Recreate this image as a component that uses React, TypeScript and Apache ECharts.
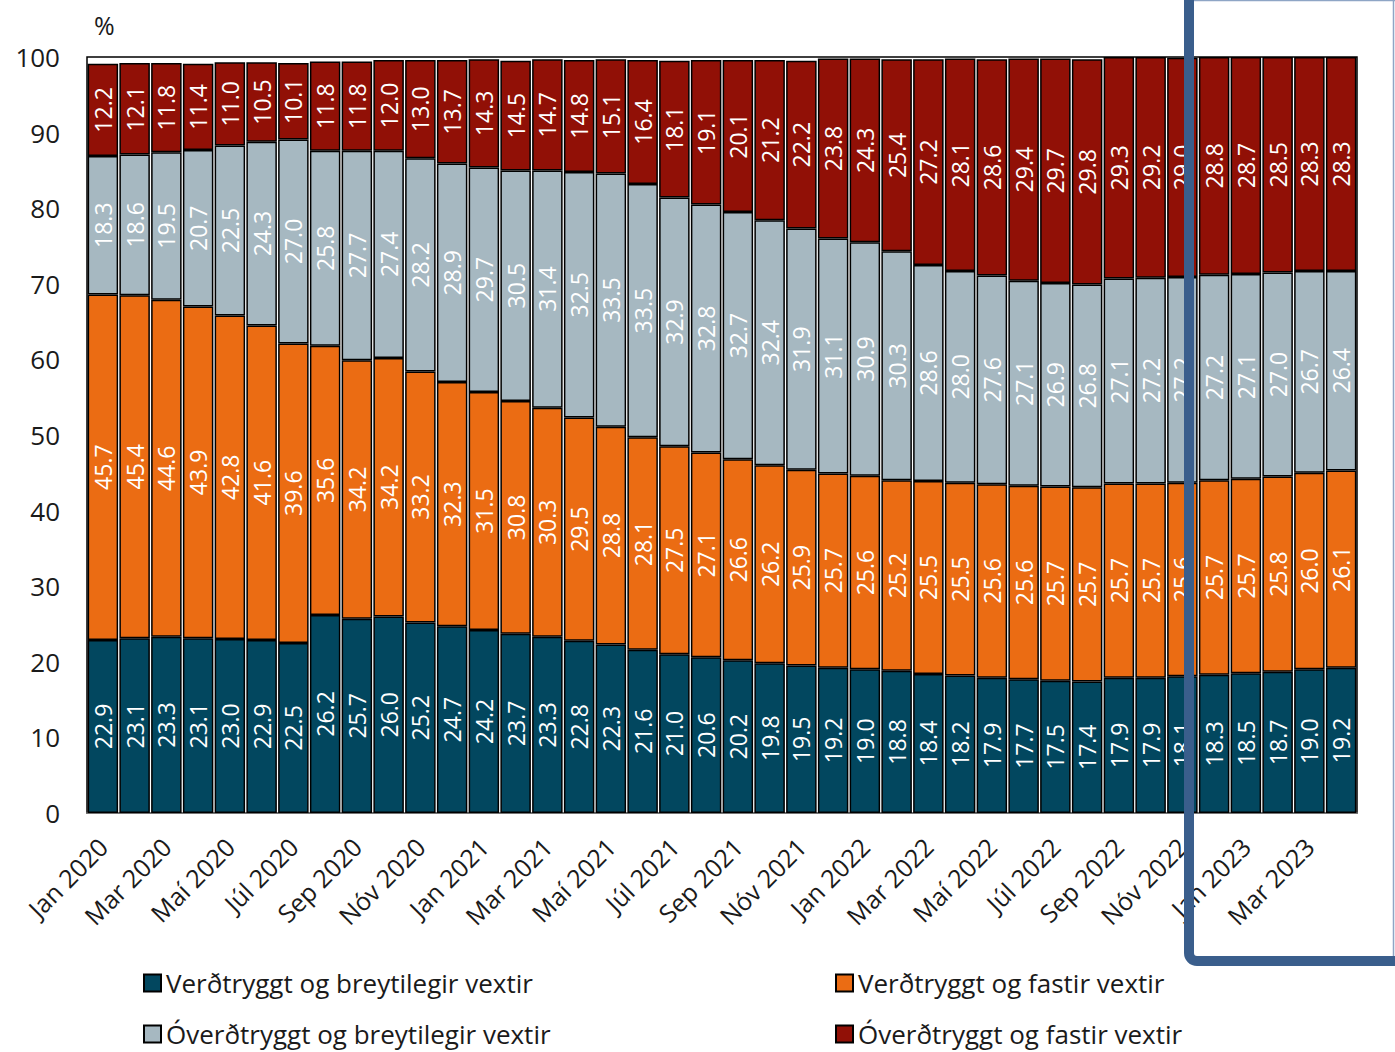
import React, { useEffect, useRef } from "react";
import * as echarts from "echarts";

const months = ["Jan", "Feb", "Mar", "Apr", "Maí", "Jún", "Júl", "Ágú", "Sep", "Okt", "Nóv", "Des"];
const years = [2020, 2021, 2022, 2023];
const categories: string[] = [];
years.forEach((y) => months.forEach((m) => categories.push(`${m} ${y}`)));
const cats = categories.slice(0, 40);

const verdBreyt = [22.9, 23.1, 23.3, 23.1, 23.0, 22.9, 22.5, 26.2, 25.7, 26.0, 25.2, 24.7, 24.2, 23.7, 23.3, 22.8, 22.3, 21.6, 21.0, 20.6, 20.2, 19.8, 19.5, 19.2, 19.0, 18.8, 18.4, 18.2, 17.9, 17.7, 17.5, 17.4, 17.9, 17.9, 18.1, 18.3, 18.5, 18.7, 19.0, 19.2];
const verdFast = [45.7, 45.4, 44.6, 43.9, 42.8, 41.6, 39.6, 35.6, 34.2, 34.2, 33.2, 32.3, 31.5, 30.8, 30.3, 29.5, 28.8, 28.1, 27.5, 27.1, 26.6, 26.2, 25.9, 25.7, 25.6, 25.2, 25.5, 25.5, 25.6, 25.6, 25.7, 25.7, 25.7, 25.7, 25.6, 25.7, 25.7, 25.8, 26.0, 26.1];
const overdBreyt = [18.3, 18.6, 19.5, 20.7, 22.5, 24.3, 27.0, 25.8, 27.7, 27.4, 28.2, 28.9, 29.7, 30.5, 31.4, 32.5, 33.5, 33.5, 32.9, 32.8, 32.7, 32.4, 31.9, 31.1, 30.9, 30.3, 28.6, 28.0, 27.6, 27.1, 26.9, 26.8, 27.1, 27.2, 27.2, 27.2, 27.1, 27.0, 26.7, 26.4];
const overdFast = [12.2, 12.1, 11.8, 11.4, 11.0, 10.5, 10.1, 11.8, 11.8, 12.0, 13.0, 13.7, 14.3, 14.5, 14.7, 14.8, 15.1, 16.4, 18.1, 19.1, 20.1, 21.2, 22.2, 23.8, 24.3, 25.4, 27.2, 28.1, 28.6, 29.4, 29.7, 29.8, 29.3, 29.2, 29.0, 28.8, 28.7, 28.5, 28.3, 28.3];

const seriesNames = [
  "Verðtryggt og breytilegir vextir",
  "Verðtryggt og fastir vextir",
  "Óverðtryggt og breytilegir vextir",
  "Óverðtryggt og fastir vextir",
];
const seriesColors = ["#02475f", "#eb6c13", "#a6b8c1", "#911006"];
const seriesData = [verdBreyt, verdFast, overdBreyt, overdFast];

const FONT = "'Open Sans', sans-serif";

export default function App() {
  const ref = useRef<HTMLDivElement>(null);
  useEffect(() => {
    document.body.style.margin = "0";
    document.body.style.overflow = "hidden";
    if (!ref.current) return;
    const chart = echarts.init(ref.current, null, { renderer: "svg" });
    const legendPos = [
      { left: 143, top: 970 },
      { left: 835, top: 970 },
      { left: 143, top: 1021 },
      { left: 835, top: 1021 },
    ];
    chart.setOption({
      animation: false,
      backgroundColor: "#ffffff",
      textStyle: { fontFamily: FONT },
      grid: {
        left: 87,
        right: 38,
        top: 57,
        bottom: 239,
        show: true,
        borderColor: "#000",
        borderWidth: 1.5,
        backgroundColor: "transparent",
      },
      legend: seriesNames.map((n, i) => ({
        data: [n],
        left: legendPos[i].left,
        top: legendPos[i].top,
        padding: 0,
        icon: "rect",
        itemWidth: 17,
        itemHeight: 17,
        itemGap: 5,
        textStyle: { fontFamily: FONT, fontSize: 26, color: "#1a1a1a" },
        selectedMode: false,
      })),
      xAxis: {
        type: "category",
        data: cats,
        axisLine: { show: true, lineStyle: { color: "#888", width: 1.5 } },
        axisTick: { show: false },
        axisLabel: {
          interval: 1,
          rotate: 45,
          fontFamily: FONT,
          fontSize: 25,
          color: "#1a1a1a",
          margin: 29,
        },
      },
      yAxis: {
        type: "value",
        min: 0,
        max: 100,
        interval: 10,
        splitLine: { show: false },
        axisLine: { show: false },
        axisTick: { show: false },
        axisLabel: { fontFamily: FONT, fontSize: 26, color: "#1a1a1a", margin: 27 },
      },
      graphic: [
        {
          type: "text",
          left: 94,
          top: 12,
          style: { text: "%", fontFamily: FONT, fontSize: 25, fill: "#1a1a1a" },
        },
        {
          type: "rect",
          z: 100,
          shape: { x: 1189, y: -30, width: 260, height: 991, r: 8 },
          style: { fill: "none", stroke: "#3a5e8c", lineWidth: 10 },
        },
        {
          type: "line",
          z: 100,
          shape: { x1: 1194, y1: 0.5, x2: 1395, y2: 0.5 },
          style: { stroke: "#8ea5c5", lineWidth: 1.5 },
        },
        {
          type: "line",
          z: 100,
          shape: { x1: 1393.5, y1: 0, x2: 1393.5, y2: 956 },
          style: { stroke: "#8ea5c5", lineWidth: 1.5 },
        },
      ],
      series: seriesNames.map((n, i) => ({
        name: n,
        type: "bar",
        stack: "total",
        data: seriesData[i],
        barCategoryGap: "4%",
        itemStyle: { color: seriesColors[i], borderColor: "#000", borderWidth: 1.5 },
        label: {
          show: true,
          position: "inside",
          rotate: 90,
          color: "#ffffff",
          fontFamily: FONT,
          fontSize: 23,
          formatter: (p: any) => Number(p.value).toFixed(1),
        },
      })),
    });
    return () => chart.dispose();
  }, []);
  return (
    <div
      ref={ref}
      style={{ position: "absolute", left: 0, top: 0, width: 1395, height: 1052 }}
    />
  );
}
